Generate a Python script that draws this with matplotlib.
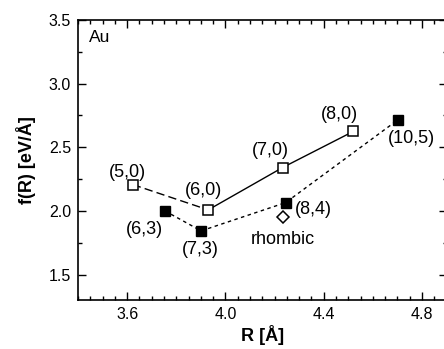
import matplotlib.pyplot as plt
from matplotlib.ticker import MultipleLocator

plt.rcParams.update({
    'font.family': 'sans-serif',
    'font.sans-serif': ['Liberation Sans', 'DejaVu Sans'],
    'font.size': 13,
})

# zigzag (n,0) tubes: open squares
zig_labels = ['(5,0)', '(6,0)', '(7,0)', '(8,0)']
zig_R = [3.623, 3.930, 4.233, 4.520]
zig_f = [2.207, 2.008, 2.341, 2.624]
zig_lab_R = [3.601, 3.910, 4.184, 4.466]
zig_lab_f = [2.300, 2.157, 2.478, 2.761]

# chiral tubes: filled squares
chi_labels = ['(6,3)', '(7,3)', '(8,4)', '(10,5)']
chi_R = [3.754, 3.901, 4.245, 4.703]
chi_f = [2.000, 1.843, 2.065, 2.717]
chi_lab_R = [3.669, 3.897, 4.357, 4.757]
chi_lab_f = [1.850, 1.698, 2.013, 2.565]

# rhombic structure
rho_R = [4.235]
rho_f = [1.953]

fig = plt.figure(figsize=(4.44, 3.49), dpi=100)
ax = fig.add_axes([0.1757, 0.1404, 0.83, 0.8023])

# (5,0)-(6,0) dashed, rest solid
ax.plot(zig_R[:2], zig_f[:2], color='black', lw=1.0, ls=(0, (6, 3)), zorder=1)
ax.plot(zig_R[1:], zig_f[1:], color='black', lw=1.0, ls='-', zorder=1)
ax.plot(zig_R, zig_f, ls='none', marker='s', ms=7.5, mfc='white',
        mec='black', mew=1.1, zorder=3)

ax.plot(chi_R, chi_f, color='black', lw=1.0, ls=(0, (2.5, 2.5)), marker='s',
        ms=7.5, mfc='black', mec='black', zorder=2)

ax.plot(rho_R, rho_f, ls='none', marker='D', ms=6.5, mfc='white',
        mec='black', mew=1.1, zorder=3)

# labels
for lab, x, y in zip(zig_labels, zig_lab_R, zig_lab_f):
    ax.text(x, y, lab, ha='center', va='center')
for lab, x, y in zip(chi_labels, chi_lab_R, chi_lab_f):
    ax.text(x, y, lab, ha='center', va='center')
ax.text(4.235, 1.777, 'rhombic', ha='center', va='center')
ax.text(0.03, 0.936, 'Au', transform=ax.transAxes, ha='left', va='center',
        fontsize=12.5)

ax.set_xlim(3.4, 4.9)
ax.set_ylim(1.3, 3.5)
ax.xaxis.set_minor_locator(MultipleLocator(0.05))
ax.yaxis.set_minor_locator(MultipleLocator(0.25))
ax.set_xticks([3.6, 4.0, 4.4, 4.8])
ax.set_xticklabels(['3.6', '4.0', '4.4', '4.8'])
ax.set_yticks([1.5, 2.0, 2.5, 3.0, 3.5])
ax.set_yticklabels(['1.5', '2.0', '2.5', '3.0', '3.5'])
ax.tick_params(which='both', direction='in', top=True, right=True, width=1.0,
               labelsize=11.5)
ax.tick_params(which='major', length=6, pad=5)
ax.tick_params(which='minor', length=3)
for sp in ax.spines.values():
    sp.set_linewidth(1.2)

ax.set_xlabel('R [Å]', fontweight='bold', labelpad=2)
ax.set_ylabel('f(R) [eV/Å]', fontweight='bold', labelpad=9)

fig.savefig('out.png', dpi=100)
